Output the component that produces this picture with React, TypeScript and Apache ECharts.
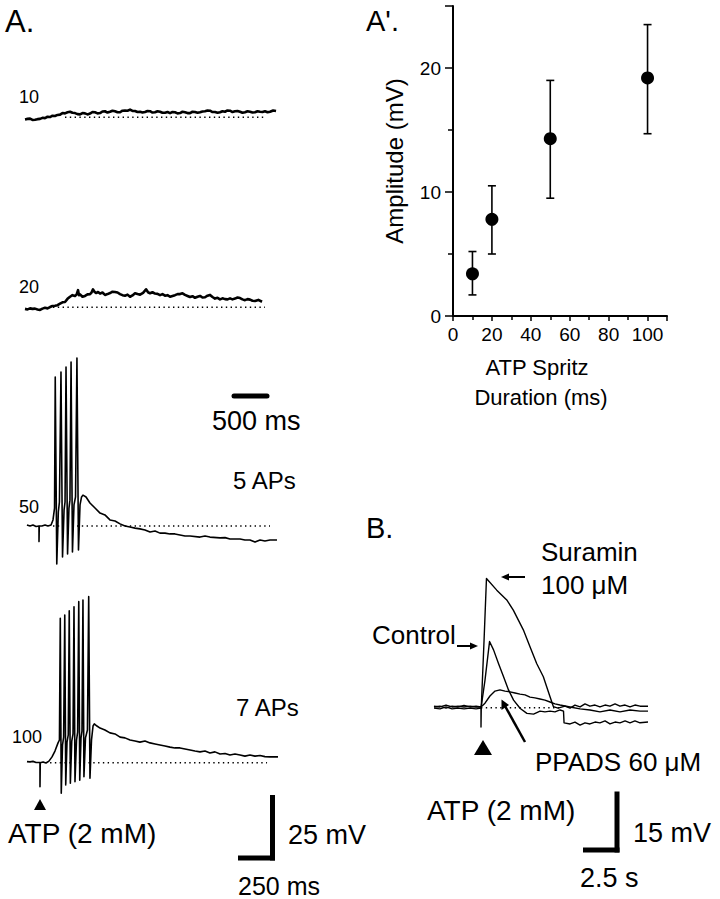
import React, { useEffect, useRef } from "react";
import * as echarts from "echarts";

// ---------- Panel A' data (ATP spritz duration vs amplitude) ----------
const durations = [10, 20, 50, 100];
const amplitudes = [3.4, 7.8, 14.3, 19.2];
const errLow = [1.7, 5.0, 9.5, 14.7];
const errHigh = [5.2, 10.5, 19.0, 23.5];
const yTicksAmp = [0, 10, 20];
const xTicksDur = [0, 20, 40, 60, 80, 100];

// ---------- Panel A traces: [time ms, mV relative to resting baseline] ----------
const trace10: number[][] = [
  [0, -0.8], [34, -0.6], [68, -0.5], [101, -1.0], [135, -0.9], [169, -0.7], [203, -0.6], [236, -0.2], [270, -0.3],
  [304, 0.2], [338, 0.1], [371, 0.6], [405, 0.5], [439, 0.9], [473, 1.0], [506, 1.6], [540, 1.5], [574, 1.9],
  [608, 2.1], [641, 1.7], [675, 1.6], [709, 1.2], [743, 1.1], [776, 1.6], [810, 1.5], [844, 1.1], [878, 1.4],
  [911, 2.0], [945, 1.9], [979, 1.5], [1013, 1.6], [1046, 2.2], [1080, 2.3], [1114, 1.8], [1148, 2.1],
  [1181, 2.5], [1215, 2.3], [1249, 1.9], [1283, 1.9], [1316, 2.5], [1350, 2.6], [1384, 2.5], [1418, 2.9],
  [1451, 2.4], [1485, 2.4], [1519, 2.0], [1553, 2.1], [1586, 1.8], [1620, 2.0], [1654, 2.4], [1688, 2.3],
  [1721, 1.8], [1755, 1.9], [1789, 2.3], [1823, 2.1], [1856, 1.7], [1890, 1.7], [1924, 2.0], [1958, 1.6],
  [1991, 2.0], [2025, 1.9], [2059, 1.5], [2093, 1.6], [2126, 2.1], [2160, 1.9], [2194, 1.6], [2228, 1.6],
  [2261, 2.1], [2295, 2.0], [2329, 1.7], [2363, 1.9], [2396, 2.2], [2430, 2.3], [2464, 2.6], [2498, 2.5],
  [2531, 2.0], [2565, 2.0], [2599, 1.7], [2633, 1.9], [2666, 2.3], [2700, 2.1], [2734, 2.6], [2768, 2.5],
  [2801, 2.0], [2835, 2.3], [2869, 2.4], [2903, 2.1], [2936, 1.7], [2970, 1.9], [3004, 2.3], [3038, 2.1],
  [3071, 1.8], [3105, 1.9], [3139, 2.3], [3173, 2.1], [3206, 2.0], [3240, 2.3], [3274, 1.9], [3308, 2.1],
  [3350, 2.6], [3389, 2.4],
];
const trace20: number[][] = [
  [0, -0.6], [34, -0.8], [68, -0.4], [101, -0.6], [135, -0.5], [169, -0.8], [203, -1.0], [236, -0.5], [270, -0.2],
  [304, -0.4], [338, 0.1], [371, 0.5], [405, 0.6], [439, 0.8], [473, 1.4], [506, 1.9], [540, 2.0], [574, 3.2],
  [608, 4.0], [641, 4.6], [675, 4.3], [696, 4.8], [716, 6.5], [729, 4.6], [743, 4.9], [776, 4.0], [810, 4.3],
  [844, 4.9], [878, 5.0], [898, 5.6], [918, 6.8], [938, 5.9], [959, 5.4], [986, 5.8], [1013, 5.2], [1046, 5.6],
  [1080, 4.7], [1114, 5.0], [1148, 5.4], [1181, 5.9], [1215, 5.8], [1249, 5.6], [1283, 5.0], [1316, 4.6],
  [1350, 4.4], [1384, 4.8], [1418, 4.0], [1451, 4.5], [1485, 5.3], [1519, 5.0], [1553, 4.8], [1594, 5.5],
  [1634, 6.8], [1661, 5.7], [1688, 5.3], [1721, 5.7], [1755, 5.2], [1789, 5.1], [1823, 4.6], [1856, 5.0],
  [1890, 4.4], [1924, 4.6], [1958, 4.0], [1991, 4.3], [2025, 4.6], [2059, 5.0], [2093, 5.0], [2126, 5.3],
  [2160, 4.7], [2194, 4.3], [2228, 3.9], [2261, 4.2], [2295, 3.6], [2329, 4.0], [2363, 4.3], [2396, 3.7],
  [2430, 3.8], [2464, 4.4], [2498, 4.7], [2531, 3.9], [2565, 3.3], [2599, 3.6], [2633, 3.0], [2666, 3.4],
  [2700, 3.1], [2734, 3.0], [2768, 3.4], [2801, 3.0], [2835, 3.3], [2869, 3.7], [2903, 3.5], [2936, 3.0],
  [2970, 2.7], [3004, 3.1], [3038, 2.9], [3071, 2.5], [3105, 2.4], [3150, 2.8], [3200, 2.1],
];
const trace50: number[][] = [
  [14, 0.4], [36, 0], [57, 0.4], [79, -0.2], [100, 0], [100, -5.9], [102, 0], [121, 0], [143, 0.4],
  [164, 0], [186, 0.4], [200, 2.3], [211, 6.8],
  [216, 56.4], [227, -14.4], [238, 5.3], [246, 9.1],
  [257, 58.3], [268, -11.7], [279, 6.1], [286, 9.1],
  [293, 60.2], [304, -10.6], [314, 6.8], [321, 9.8],
  [329, 62.1], [339, -9.8], [350, 8.0], [361, 11.0],
  [371, 63.6], [382, -9.1], [393, 8.0], [404, 11.0],
  [414, 11.7], [436, 11.0], [464, 8.7], [500, 6.8], [536, 4.9], [571, 4.2], [607, 2.3], [643, 1.9],
  [679, 0.8], [714, 0], [750, -0.4], [786, -0.8], [821, -1.1], [857, -1.5], [893, -2.3], [929, -1.9],
  [964, -2.7], [1000, -2.7], [1036, -3.0], [1071, -3.0], [1107, -3.4], [1143, -3.8], [1179, -3.8],
  [1250, -4.2], [1286, -3.8], [1321, -4.2], [1393, -4.5], [1429, -4.4], [1464, -4.9], [1536, -4.9],
  [1571, -5.3], [1607, -5.3], [1643, -6.1], [1679, -5.3], [1714, -5.7], [1750, -5.3], [1800, -5.3],
];
const trace100: number[][] = [
  [14, 0.4], [36, 0.3], [57, 0.5], [79, 0.1], [107, 0.1], [107, -9.1], [109, 0], [129, 0.3], [150, -0.1],
  [171, 0.6], [193, 2.2], [214, 4.4], [236, 7.5], [246, 8.6],
  [252, 54.7], [259, -11.6], [268, 6.7], [276, 9.7],
  [284, 55.9], [291, -8.4], [300, 7.8], [309, 10.5],
  [316, 57.5], [324, -7.8], [334, 8.2], [343, 10.9],
  [350, 59.1], [357, -7.2], [368, 8.6], [376, 11.6],
  [384, 61.0], [391, -6.6], [400, 9.4], [407, 12.0],
  [414, 61.6], [421, -5.3], [432, 9.4], [446, 12.4],
  [455, 62.9], [464, -5.9], [475, 8.6], [486, 13.9],
  [495, 14.7], [514, 13.9], [536, 13.1], [571, 12.4], [607, 11.3], [643, 10.9], [679, 9.7], [714, 9.4],
  [750, 8.6], [786, 8.2], [821, 7.8], [857, 8.2], [893, 7.5], [929, 7.1], [964, 6.7], [1000, 6.3],
  [1036, 5.9], [1071, 5.6], [1107, 5.6], [1143, 5.2], [1179, 4.8], [1214, 4.4], [1250, 4.1], [1286, 4.4],
  [1321, 3.7], [1357, 4.1], [1393, 3.3], [1429, 3.5], [1464, 2.9], [1500, 3.3], [1536, 2.9], [1571, 2.5],
  [1607, 2.9], [1643, 2.5], [1679, 2.7], [1714, 2.3], [1750, 2.2], [1807, 2.2],
];
// baseline (dotted) extents in ms
const base10 = [540, 3240];
const base20 = [378, 3240];
const base50 = [200, 1750];
const base100 = [179, 1729];

// ---------- Panel B traces: [time s, mV] ----------
const suramin: number[][] = [
  [0, 0.2], [0.45, 0.4], [0.9, -0.1], [1.35, 0.4], [1.8, 0.2], [2.25, 0.6], [2.7, 0.2], [3.15, 0.4],
  [3.52, 0.2], [3.52, -5.1], [3.54, 0], [3.75, 17.9], [3.93, 34.2], [4.7, 31.1], [5.45, 28.5], [5.94, 25.8],
  [6.69, 20.6], [7.19, 16.1], [7.69, 11.7], [8.19, 8.2], [8.69, 2.9], [8.94, 0.3], [9.29, -0.1], [9.81, 0.4],
  [10.19, -0.1], [10.56, 0.7], [10.94, 0.2], [11.31, 1.0], [11.68, 0.4], [12.06, 0.7], [12.43, 0.2],
  [12.81, 0.7], [13.18, 0.4], [13.56, 1.0], [13.93, 0.4], [14.31, 0.7], [14.68, 0.2], [15.05, 0.7],
  [15.43, 0.4], [16.03, 0.4],
];
const control: number[][] = [
  [0, -0.1], [0.45, -0.3], [0.9, 0.2], [1.35, -0.3], [1.8, -0.1], [2.25, -0.3], [2.7, -0.1], [3.15, -0.3],
  [3.52, -0.1], [3.82, 7.3], [4.16, 17.5], [4.46, 15.3], [4.83, 11.7], [5.21, 8.2], [5.58, 4.7], [5.96, 2.0],
  [6.46, -0.2], [6.96, -1.5], [7.46, -1.7], [7.94, -0.9], [8.31, -1.1], [8.69, -0.9], [9.06, -1.1],
  [9.44, -0.6], [9.7, -0.9], [9.74, -4.0], [10.19, -4.3], [10.56, -3.8], [10.94, -4.6], [11.31, -4.0],
  [11.68, -4.3], [12.06, -3.8], [12.43, -4.0], [12.81, -3.5], [13.18, -4.3], [13.56, -3.8], [13.93, -4.0],
  [14.31, -3.5], [14.68, -4.0], [15.05, -3.5], [15.43, -4.0], [16.03, -3.8],
];
const ppads: number[][] = [
  [0, 0.4], [0.45, 0.2], [0.9, 0.7], [1.35, 0.2], [1.8, 0.4], [2.25, 0.2], [2.7, 0.4], [3.15, 0.2],
  [3.52, 0.2], [3.82, 1.2], [4.19, 3.1], [4.57, 4.4], [4.94, 4.7], [5.32, 4.4], [5.69, 4.2], [6.07, 3.9],
  [6.44, 3.6], [6.82, 3.4], [7.19, 2.8], [7.56, 2.6], [7.94, 2.3], [8.31, 2.0], [8.69, 1.5], [9.06, 1.0],
  [9.44, 0.7], [10.19, 0.2], [10.94, -0.3], [11.68, -0.6], [12.43, -1.1], [13.18, -0.6], [13.93, -1.1],
  [14.68, -0.6], [15.43, -0.9], [16.03, -0.9],
];
const baseB = [3.52, 9.5];

const FONT = '"Liberation Sans", Arial, Helvetica, sans-serif';

function frame(x0: number, baseY: number, unitPerPx: number, pxPerUnit: number, xMax: number, yMin: number, yMax: number) {
  return {
    grid: {
      left: x0,
      top: baseY - yMax * pxPerUnit,
      width: xMax / unitPerPx,
      height: (yMax - yMin) * pxPerUnit,
      containLabel: false,
      outerBoundsMode: "none",
    },
    xAxis: { type: "value", min: 0, max: xMax, show: false },
    yAxis: { type: "value", min: yMin, max: yMax, show: false },
  };
}

function txt(text: string, x: number, y: number, size: number, align = "left") {
  return {
    type: "text",
    x,
    y,
    style: { text, fill: "#000", font: `${size}px ${FONT}`, fontSize: size, fontFamily: FONT, align, verticalAlign: "middle" },
  };
}
function seg(x1: number, y1: number, x2: number, y2: number, w: number) {
  return { type: "line", shape: { x1, y1, x2, y2 }, style: { stroke: "#000", lineWidth: w, lineCap: "butt" } };
}
function tri(points: number[][]) {
  return { type: "polygon", shape: { points }, style: { fill: "#000" } };
}

export default function App() {
  const ref = useRef<HTMLDivElement>(null);
  useEffect(() => {
    if (!ref.current) return;
    const chart = echarts.init(ref.current, null, { renderer: "svg" });

    const fA = {
      grid: { left: 453, top: 6, right: 720 - 667, bottom: 899 - 316, containLabel: false, outerBoundsMode: "none" },
      xAxis: {
        type: "value", min: 0, max: 110, interval: 20,
        axisLine: { show: true, onZero: false, lineStyle: { color: "#000", width: 2 } },
        axisTick: { show: true, length: 5, lineStyle: { color: "#000", width: 1.5 } },
        minorTick: { show: true, splitNumber: 2, length: 4, lineStyle: { color: "#000", width: 1.5 } },
        splitLine: { show: false },
        axisLabel: {
          color: "#000", fontSize: 19, fontFamily: FONT, margin: 9,
          formatter: (v: number) => (xTicksDur.includes(v) ? String(v) : ""),
        },
      },
      yAxis: {
        type: "value", min: 0, max: 25, interval: 10,
        axisLine: { show: true, onZero: false, lineStyle: { color: "#000", width: 2 } },
        axisTick: { show: true, length: 8, lineStyle: { color: "#000", width: 1.5 } },
        minorTick: { show: true, splitNumber: 2, length: 5, lineStyle: { color: "#000", width: 1.5 } },
        splitLine: { show: false },
        name: "Amplitude (mV)", nameLocation: "middle", nameRotate: 90, nameGap: 47,
        nameTextStyle: { color: "#000", fontSize: 24, fontFamily: FONT },
        axisLabel: {
          color: "#000", fontSize: 19, fontFamily: FONT, margin: 12,
          formatter: (v: number) => (yTicksAmp.includes(v) ? String(v) : ""),
        },
      },
    };

    const f10 = frame(25, 117.3, 13.5, 2.64, 3450, -5, 10);
    const f20 = frame(25, 307.3, 13.5, 2.64, 3450, -5, 12);
    const f50 = frame(25, 526, 7.143, 2.64, 1850, -20, 70);
    const f100 = frame(25, 762.7, 7.143, 2.64, 1850, -20, 70);
    const fB = frame(434, 707.7, 0.0749, 3.78, 16.2, -8, 38);
    const frames = [fA, f10, f20, f50, f100, fB];

    const traceSeries = (data: number[][], idx: number, w: number) => ({
      type: "line", data, xAxisIndex: idx, yAxisIndex: idx, showSymbol: false, symbol: "none",
      lineStyle: { color: "#000", width: w, join: "round" }, silent: true, z: 3,
    });
    const dotted = (ext: number[], idx: number) => ({
      type: "line", data: [[ext[0], 0], [ext[1], 0]], xAxisIndex: idx, yAxisIndex: idx, showSymbol: false,
      symbol: "none", lineStyle: { color: "#000", width: 1.4, type: [1.4, 3.4] }, silent: true, z: 2,
    });

    const option: any = {
      animation: false,
      backgroundColor: "#fff",
      grid: frames.map((f) => f.grid),
      xAxis: frames.map((f, i) => ({ ...f.xAxis, gridIndex: i })),
      yAxis: frames.map((f, i) => ({ ...f.yAxis, gridIndex: i })),
      series: [
        {
          type: "custom", xAxisIndex: 0, yAxisIndex: 0,
          data: durations.map((d, i) => [d, errLow[i], errHigh[i]]),
          renderItem: (_p: any, api: any) => {
            const x = api.value(0);
            const lo = api.coord([x, api.value(1)]);
            const hi = api.coord([x, api.value(2)]);
            const c = 4;
            const st = { stroke: "#000", lineWidth: 1.6 };
            return {
              type: "group",
              children: [
                { type: "line", shape: { x1: lo[0], y1: lo[1], x2: hi[0], y2: hi[1] }, style: st },
                { type: "line", shape: { x1: lo[0] - c, y1: lo[1], x2: lo[0] + c, y2: lo[1] }, style: st },
                { type: "line", shape: { x1: hi[0] - c, y1: hi[1], x2: hi[0] + c, y2: hi[1] }, style: st },
              ],
            };
          },
          z: 3,
        },
        {
          type: "scatter", xAxisIndex: 0, yAxisIndex: 0, symbol: "circle", symbolSize: 13,
          itemStyle: { color: "#000", opacity: 1 }, data: durations.map((d, i) => [d, amplitudes[i]]), z: 4,
        },
        dotted(base10, 1), traceSeries(trace10, 1, 2.6),
        dotted(base20, 2), traceSeries(trace20, 2, 2.6),
        dotted(base50, 3), traceSeries(trace50, 3, 1.6),
        dotted(base100, 4), traceSeries(trace100, 4, 1.6),
        dotted(baseB, 5),
        traceSeries(suramin, 5, 1.4), traceSeries(control, 5, 1.4), traceSeries(ppads, 5, 1.4),
      ],
      graphic: {
        elements: [
          txt("A.", 5, 21, 31),
          txt("A'.", 366, 21, 29),
          txt("B.", 366, 528, 29),
          txt("10", 19, 97, 18),
          txt("20", 19, 287, 18),
          txt("50", 19, 507, 18),
          txt("100", 12, 737, 18),
          txt("ATP Spritz", 537, 367, 22, "center"),
          txt("Duration (ms)", 541, 397, 22, "center"),
          // 500 ms bar
          { type: "line", shape: { x1: 234, y1: 396, x2: 267, y2: 396 }, style: { stroke: "#000", lineWidth: 5, lineCap: "round" } },
          txt("500 ms", 212, 421, 27),
          txt("5 APs", 233, 480, 24),
          txt("7 APs", 236, 707, 24),
          tri([[40, 799], [34, 810], [46, 810]]),
          txt("ATP (2 mM)", 8, 833, 28),
          // A scale bar
          seg(272.5, 795, 272.5, 860.5, 5),
          seg(238, 858, 275, 858, 5),
          txt("25 mV", 288, 835, 27),
          txt("250 ms", 238, 886, 25),
          // B labels
          txt("Suramin", 541, 552, 26),
          txt("100 μM", 541, 585, 26),
          seg(525, 577, 507, 577, 2),
          tri([[501, 577], [509, 573.5], [509, 580.5]]),
          txt("Control", 372, 635, 26),
          seg(457, 646, 472, 646, 2),
          tri([[478, 646], [470, 642.5], [470, 649.5]]),
          seg(525, 742, 505, 706, 2.5),
          tri([[501.5, 699.5], [501.5, 710], [509, 705]]),
          tri([[483, 740], [474, 755], [492, 755]]),
          txt("PPADS 60 μM", 535, 762, 26),
          txt("ATP (2 mM)", 427, 810, 28),
          seg(617, 791.5, 617, 852.5, 5),
          seg(583, 850, 619.5, 850, 5),
          txt("15 mV", 633, 833, 27),
          txt("2.5 s", 580, 878, 27),
        ],
      },
    };
    chart.setOption(option);
    return () => chart.dispose();
  }, []);
  return <div ref={ref} style={{ position: "absolute", left: 0, top: 0, width: 720, height: 899, background: "#fff" }} />;
}
